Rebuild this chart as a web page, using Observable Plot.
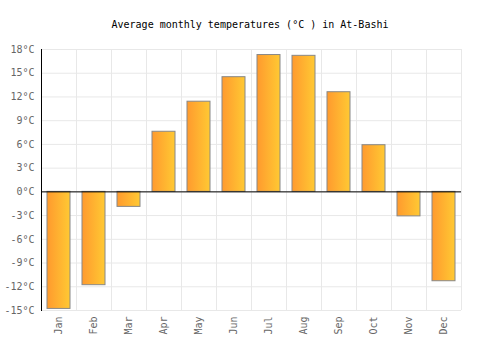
<!DOCTYPE html>
<html>
<head>
<meta charset="utf-8">
<script src="https://cdn.jsdelivr.net/npm/d3@7"></script>
<script src="https://cdn.jsdelivr.net/npm/@observablehq/plot@0.6"></script>
<style>
  html, body { margin: 0; padding: 0; background: #fff; }
  #title { width: 500px; height: 40px; box-sizing: border-box; padding-top: 19px; line-height: 12px;
           text-align: center; font-family: "DejaVu Sans Mono", monospace; font-size: 10px; color: #000; }
</style>
</head>
<body>
<div id="title">Average monthly temperatures (°C ) in At-Bashi</div>
<div id="chart"></div>
<script>
const months = ["Jan","Feb","Mar","Apr","May","Jun","Jul","Aug","Sep","Oct","Nov","Dec"];
const temps = [-14.8, -11.8, -1.9, 7.6, 11.4, 14.5, 17.3, 17.2, 12.6, 5.9, -3.1, -11.3];
const yTicks = [-15, -12, -9, -6, -3, 0, 3, 6, 9, 12, 15, 18];

const data = months.map((m, i) => ({month: m, temp: temps[i]}));

const plot = Plot.plot({
  width: 500,
  height: 310,
  marginTop: 9,
  marginBottom: 40,
  marginLeft: 41,
  marginRight: 39,
  style: {fontFamily: "DejaVu Sans Mono, monospace", fontSize: "10px", color: "#666", background: "#fff"},
  x: {type: "band", domain: months, padding: 0, label: null},
  y: {domain: [-15, 18], label: null},
  marks: [
    Plot.gridY(yTicks, {stroke: "#e8e8e8", strokeOpacity: 1}),
    Plot.ruleX(months, {x: d => d, dx: -17.5, stroke: "#e8e8e8"}),
    Plot.ruleX([months[11]], {x: d => d, dx: 17.5, stroke: "#e8e8e8"}),
    Plot.barY(data, {x: "month", y: "temp", fill: "url(#barGrad)", stroke: "#888", strokeWidth: 1, insetLeft: 6, insetRight: 6}),
    Plot.ruleY([0], {stroke: "#000", strokeWidth: 1}),
    Plot.axisY(yTicks, {tickSize: 0, tickPadding: 7, tickFormat: d => d + "°C", fill: "#666"}),
    Plot.axisX({tickSize: 0, tickPadding: 6, tickRotate: -90, fill: "#666"}),
    Plot.frame({anchor: "left", stroke: "#000"})
  ]
});

const ns = "http://www.w3.org/2000/svg";
const defs = document.createElementNS(ns, "defs");
const grad = document.createElementNS(ns, "linearGradient");
grad.setAttribute("id", "barGrad");
grad.setAttribute("x1", "0"); grad.setAttribute("x2", "1");
grad.setAttribute("y1", "0"); grad.setAttribute("y2", "0");
[["0%", "#ff9a2e"], ["100%", "#ffc933"]].forEach(([o, c]) => {
  const s = document.createElementNS(ns, "stop");
  s.setAttribute("offset", o); s.setAttribute("stop-color", c);
  grad.appendChild(s);
});
defs.appendChild(grad);
plot.insertBefore(defs, plot.firstChild);
document.getElementById("chart").appendChild(plot);
</script>
</body>
</html>
